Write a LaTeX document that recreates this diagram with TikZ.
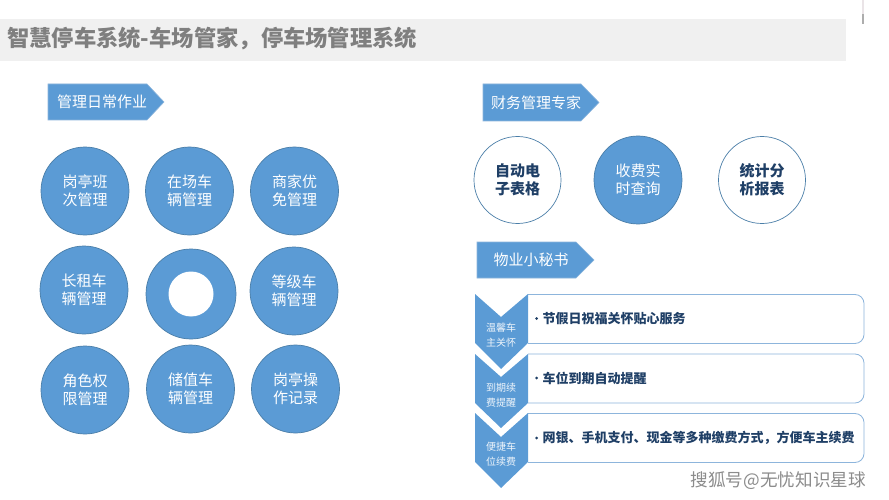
\documentclass[tikz,border=0pt]{standalone}
\usepackage{fontspec}
\setmainfont{Noto Sans CJK SC}
\definecolor{blu}{HTML}{5B9BD5}
\definecolor{bluedge}{HTML}{4A7EA8}
\definecolor{lightedge}{HTML}{8DB5DC}
\definecolor{darktxt}{HTML}{1F3F66}
\definecolor{titlegray}{HTML}{7F7F7F}
\definecolor{band}{HTML}{F0F0F0}
\tikzset{
  x=1pt,y=-1pt,
  disc/.style={circle,draw=bluedge,line width=0.7pt,fill=blu,minimum size=88pt,inner sep=0pt,text=white,font=\fontsize{15}{18}\selectfont,align=center},
  hollow/.style={circle,draw=bluedge,line width=0.7pt,fill=white,minimum size=87pt,inner sep=0pt,text=darktxt,font=\fontsize{15}{18}\bfseries\selectfont,align=center},
  tagshape/.style={fill=blu,draw=lightedge,line width=0.6pt},
  tagtext/.style={text=white,font=\fontsize{15}{18}\selectfont,inner sep=0pt},
  chev/.style={fill=blu,draw=none},
  chevtext/.style={text=white!90!blu,font=\fontsize{10}{14.5}\selectfont,align=center,inner sep=0pt},
  panel/.style={draw=lightedge,line width=0.8pt,fill=white,rounded corners=9pt},
  paneltext/.style={text=darktxt,font=\fontsize{13}{16}\bfseries\selectfont,anchor=west,inner sep=0pt},
  bulletdot/.style={circle,fill=darktxt,minimum size=3pt,inner sep=0pt},
}
\begin{document}
\begin{tikzpicture}
\useasboundingbox (0,0) rectangle (889,500);
\fill[white] (0,0) rectangle (889,500);
% title band
\fill[band] (0,19) rectangle (846,61);
\node[anchor=west,inner sep=0pt,text=titlegray,font=\fontsize{22.3}{24}\bfseries\selectfont] (title) at (7,38.5) {智慧停车系统-车场管家，停车场管理系统};
\fill[magenta!22!black!12] (861.5,0) rectangle (863.5,14);
\fill[black!32] (861.5,14) rectangle (863.5,24);
% tags
\draw[tagshape] (48,84) -- (147,84) -- (164,102) -- (147,120) -- (48,120) -- cycle;
\node[tagtext] (t1) at (102,102) {管理日常作业};
\draw[tagshape] (483,84) -- (581,84) -- (599,102.5) -- (581,121) -- (483,121) -- cycle;
\node[tagtext] (t2) at (536,102.5) {财务管理专家};
\draw[tagshape] (477,242) -- (576,242) -- (594,260) -- (576,278) -- (477,278) -- cycle;
\node[tagtext] (t3) at (531,260) {物业小秘书};
% left grid
\node[disc] (a1) at (85,191) {岗亭班\\次管理};
\node[disc] (a2) at (189.5,191) {在场车\\辆管理};
\node[disc] (a3) at (294.5,191) {商家优\\免管理};
\node[disc] (b1) at (84,290) {长租车\\辆管理};
\node[disc,minimum size=90pt] (b2) at (191,294) {};
\node[circle,fill=white,minimum size=45pt,inner sep=0pt] (b2h) at (b2) {};
\node[disc] (b3) at (294,291) {等级车\\辆管理};
\node[disc] (c1) at (85,390) {角色权\\限管理};
\node[disc] (c2) at (190.5,389) {储值车\\辆管理};
\node[disc] (c3) at (295.5,389) {岗亭操\\作记录};
% right circles
\node[hollow] (r1) at (517.5,180) {自动电\\子表格};
\node[disc] (r2) at (638,180) {收费实\\时查询};
\node[hollow] (r3) at (762,180) {统计分\\析报表};
% panels
\draw[panel] (528,294.5) -- (864,294.5) -- (864,343.5) -- (528,343.5);
\draw[panel] (528,354) -- (864,354) -- (864,403) -- (528,403);
\draw[panel] (528,413.5) -- (864,413.5) -- (864,462.5) -- (528,462.5);
\node[bulletdot] (d1) at (536.5,318.5) {};
\node[bulletdot] (d2) at (536.5,378) {};
\node[bulletdot] (d3) at (536.5,438) {};
\node[paneltext] (p1) at (542.5,318.5) {节假日祝福关怀贴心服务};
\node[paneltext] (p2) at (542.5,378) {车位到期自动提醒};
\node[paneltext] (p3) at (542.5,438) {网银、手机支付、现金等多种缴费方式，方便车主续费};
% chevrons
\fill[chev] (475,294) -- (501,317) -- (528,294) -- (528,343) -- (501,369) -- (475,343) -- cycle;
\fill[chev] (475,354) -- (501,377) -- (528,354) -- (528,403) -- (501,428) -- (475,403) -- cycle;
\fill[chev] (475,413) -- (501,437) -- (528,413) -- (528,462) -- (501,488) -- (475,462) -- cycle;
\node[chevtext] (c1t) at (501,335) {温馨车\\主关怀};
\node[chevtext] (c2t) at (501,395) {到期续\\费提醒};
\node[chevtext] (c3t) at (501,454) {便捷车\\位续费};
% watermark
\node[anchor=east,inner sep=0pt,text=black!45,font=\fontsize{17.6}{20}\selectfont] (wm) at (866,481) {搜狐号@无忧知识星球};
\end{tikzpicture}
\end{document}
